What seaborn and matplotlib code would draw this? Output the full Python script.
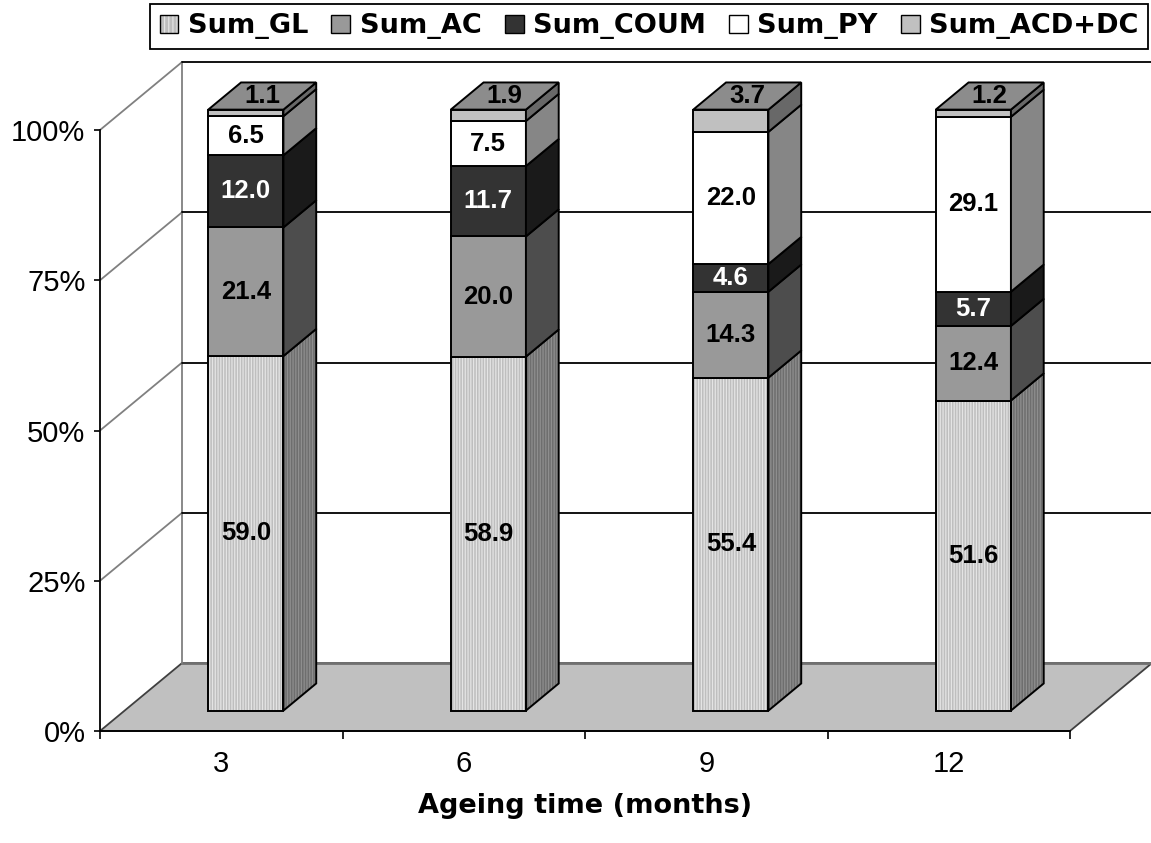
import numpy as np
import pandas as pd
import matplotlib
matplotlib.use("Agg")
import matplotlib.pyplot as plt
from matplotlib.patches import Polygon, Patch
from matplotlib.ticker import FixedLocator, FixedFormatter, NullFormatter
import seaborn as sns

# ---------------------------------------------------------------- data
months = [3, 6, 9, 12]
series_names = ["Sum_GL", "Sum_AC", "Sum_COUM", "Sum_PY", "Sum_ACD+DC"]
sum_gl = [59.0, 58.9, 55.4, 51.6]
sum_ac = [21.4, 20.0, 14.3, 12.4]
sum_coum = [12.0, 11.7, 4.6, 5.7]
sum_py = [6.5, 7.5, 22.0, 29.1]
sum_acd_dc = [1.1, 1.9, 3.7, 1.2]
y_ticks = [0, 25, 50, 75, 100]
x_title = "Ageing time (months)"

series_values = [sum_gl, sum_ac, sum_coum, sum_py, sum_acd_dc]

# ---------------------------------------------------------------- styling
front_colors = ["#bebebe", "#999999", "#333333", "#ffffff", "#c0c0c0"]
side_colors = ["#6e6e6e", "#4d4d4d", "#1a1a1a", "#868686", "#686868"]
top_color = "#8c8c8c"
hatch_front = "#e4e4e4"
hatch_side = "#8e8e8e"
text_colors = ["black", "black", "white", "black", "black"]

# oblique 3-D look: depth offset of the back wall (category units, percent units)
DEPTH_X = 0.338
DEPTH_Y = 11.3
F_FRONT, F_BACK = 0.30, 0.70   # bar extent along the depth axis
BAR_W = 0.31
EDGE_LW = 1.4
VALUE_SIZE = 18.5

sns.set_style("white")
plt.rcParams["font.family"] = ["Liberation Sans", "DejaVu Sans"]
plt.rcParams["hatch.linewidth"] = 0.9
for key in ("text.color", "axes.labelcolor", "xtick.color", "ytick.color",
            "axes.edgecolor"):
    plt.rcParams[key] = "black"

fig = plt.figure(figsize=(11.51, 8.43), dpi=100)
ax = fig.add_axes([0, 0, 1, 1])
ax.set_xlim(-100 / 242.5, 1051 / 242.5)
ax.set_ylim((731 - 843) / 6.01, 731 / 6.01)
n_cat = len(months)

# ---------------------------------------------------------------- floor and walls
floor = Polygon([(0, 0), (n_cat, 0), (n_cat + DEPTH_X, DEPTH_Y), (DEPTH_X, DEPTH_Y)],
                closed=True, facecolor="#c0c0c0", edgecolor="#404040", lw=1.3, zorder=1)
ax.add_patch(floor)
ax.plot([DEPTH_X, n_cat + DEPTH_X], [DEPTH_Y] * 2, color="#707070", lw=2.0, zorder=1)
ax.plot([DEPTH_X, DEPTH_X], [DEPTH_Y, 100 + DEPTH_Y], color="#808080", lw=1.3, zorder=1)
for yt in y_ticks[1:]:
    ax.plot([0, DEPTH_X], [yt, yt + DEPTH_Y], color="#808080", lw=1.3, zorder=1)
    ax.plot([DEPTH_X, n_cat + DEPTH_X], [yt + DEPTH_Y] * 2, color="black", lw=1.3, zorder=1)

# ---------------------------------------------------------------- bars
centers = np.arange(n_cat) + 0.5
front_x = centers + F_FRONT * DEPTH_X
base = F_FRONT * DEPTH_Y
ddx = (F_BACK - F_FRONT) * DEPTH_X
ddy = (F_BACK - F_FRONT) * DEPTH_Y

cum = np.zeros(n_cat)
for k, (name, vals) in enumerate(zip(series_names, series_values)):
    vals = np.asarray(vals, dtype=float)
    bottoms = base + cum
    if k == 0:
        sns.barplot(x=front_x, y=vals, native_scale=True, width=BAR_W, errorbar=None,
                    saturation=1, color=front_colors[k], edgecolor=hatch_front,
                    linewidth=0, hatch="||||||", bottom=bottoms, zorder=3, ax=ax)
        sns.barplot(x=front_x, y=vals, native_scale=True, width=BAR_W, errorbar=None,
                    saturation=1, color="black", facecolor="none", edgecolor="black",
                    linewidth=EDGE_LW, bottom=bottoms, zorder=4, ax=ax)
    else:
        sns.barplot(x=front_x, y=vals, native_scale=True, width=BAR_W, errorbar=None,
                    saturation=1, color=front_colors[k], edgecolor="black",
                    linewidth=EDGE_LW, bottom=bottoms, zorder=4, ax=ax)

    # side faces
    for i in range(n_cat):
        xr = front_x[i] + BAR_W / 2
        y0, y1 = bottoms[i], bottoms[i] + vals[i]
        pts = [(xr, y0), (xr + ddx, y0 + ddy), (xr + ddx, y1 + ddy), (xr, y1)]
        if k == 0:
            ax.add_patch(Polygon(pts, closed=True, facecolor=side_colors[k],
                                 edgecolor=hatch_side, lw=0, hatch="||||||", zorder=3))
            ax.add_patch(Polygon(pts, closed=True, facecolor="none",
                                 edgecolor="black", lw=EDGE_LW, zorder=4))
        else:
            ax.add_patch(Polygon(pts, closed=True, facecolor=side_colors[k],
                                 edgecolor="black", lw=EDGE_LW, zorder=4))

    # value labels on the front faces (the last series sits on the top face)
    if k < len(series_names) - 1:
        for i in range(n_cat):
            ax.text(front_x[i], bottoms[i] + vals[i] / 2, f"{vals[i]:.1f}",
                    ha="center", va="center", fontsize=VALUE_SIZE, fontweight="bold",
                    color=text_colors[k], zorder=6)
    cum += vals

# top faces
for i in range(n_cat):
    xl, xr = front_x[i] - BAR_W / 2, front_x[i] + BAR_W / 2
    yt = base + cum[i]
    ax.add_patch(Polygon([(xl, yt), (xr, yt), (xr + ddx, yt + ddy), (xl + ddx, yt + ddy)],
                         closed=True, facecolor=top_color, edgecolor="black",
                         lw=EDGE_LW, zorder=5))
    ax.text(front_x[i] + ddx / 2, yt + ddy / 2, f"{sum_acd_dc[i]:.1f}",
            ha="center", va="center", fontsize=VALUE_SIZE, fontweight="bold",
            color="black", zorder=6)

# ---------------------------------------------------------------- axes
ax.set_xlim(-100 / 242.5, 1051 / 242.5)
ax.set_ylim((731 - 843) / 6.01, 731 / 6.01)
for side in ("top", "right"):
    ax.spines[side].set_visible(False)
ax.spines["left"].set_position(("data", 0))
ax.spines["left"].set_bounds(0, 100)
ax.spines["bottom"].set_position(("data", 0))
ax.spines["bottom"].set_bounds(0, n_cat)
for side in ("left", "bottom"):
    ax.spines[side].set_color("black")
    ax.spines[side].set_linewidth(1.3)
    ax.spines[side].set_zorder(2)

ax.yaxis.set_major_locator(FixedLocator(y_ticks))
ax.yaxis.set_major_formatter(FixedFormatter([f"{t}%" for t in y_ticks]))
ax.tick_params(axis="y", which="major", direction="out", length=4.5, width=1.2,
               pad=6, labelsize=21, left=True, labelleft=True, colors="black")

ax.xaxis.set_major_locator(FixedLocator(np.arange(n_cat + 1)))
ax.xaxis.set_major_formatter(NullFormatter())
ax.xaxis.set_minor_locator(FixedLocator(centers))
ax.xaxis.set_minor_formatter(FixedFormatter([str(m) for m in months]))
ax.tick_params(axis="x", which="major", direction="out", length=6, width=1.2,
               bottom=True, colors="black")
ax.tick_params(axis="x", which="minor", length=0, pad=14, labelsize=21,
               bottom=True, labelbottom=True, colors="black")

ax.set_ylabel("")
ax.set_xlabel(x_title, fontsize=19.5, fontweight="bold", family="DejaVu Sans",
              color="black")
ax.xaxis.set_label_coords(585 / 1151, 1 - 793 / 843)
ax.grid(False)

# ---------------------------------------------------------------- legend
handles = [(Patch(facecolor=front_colors[0], edgecolor=hatch_front, lw=0, hatch="||||"),
            Patch(facecolor="none", edgecolor="black", lw=1.0))]
handles += [Patch(facecolor=c, edgecolor="black", lw=1.0) for c in front_colors[1:]]
leg = fig.legend(handles, series_names, loc="upper right",
                 bbox_to_anchor=(1148 / 1151, 1 - 4 / 843), ncol=5, frameon=True,
                 fancybox=False, edgecolor="black", framealpha=1,
                 prop=dict(family="DejaVu Sans", weight="bold", size=19.5),
                 handlelength=0.7, handleheight=0.7, handletextpad=0.35,
                 columnspacing=0.85, borderpad=0.35, borderaxespad=0)
leg.get_frame().set_linewidth(1.3)
for txt in leg.get_texts():
    txt.set_color("black")

fig.savefig("out.png", dpi=100, facecolor="white")
